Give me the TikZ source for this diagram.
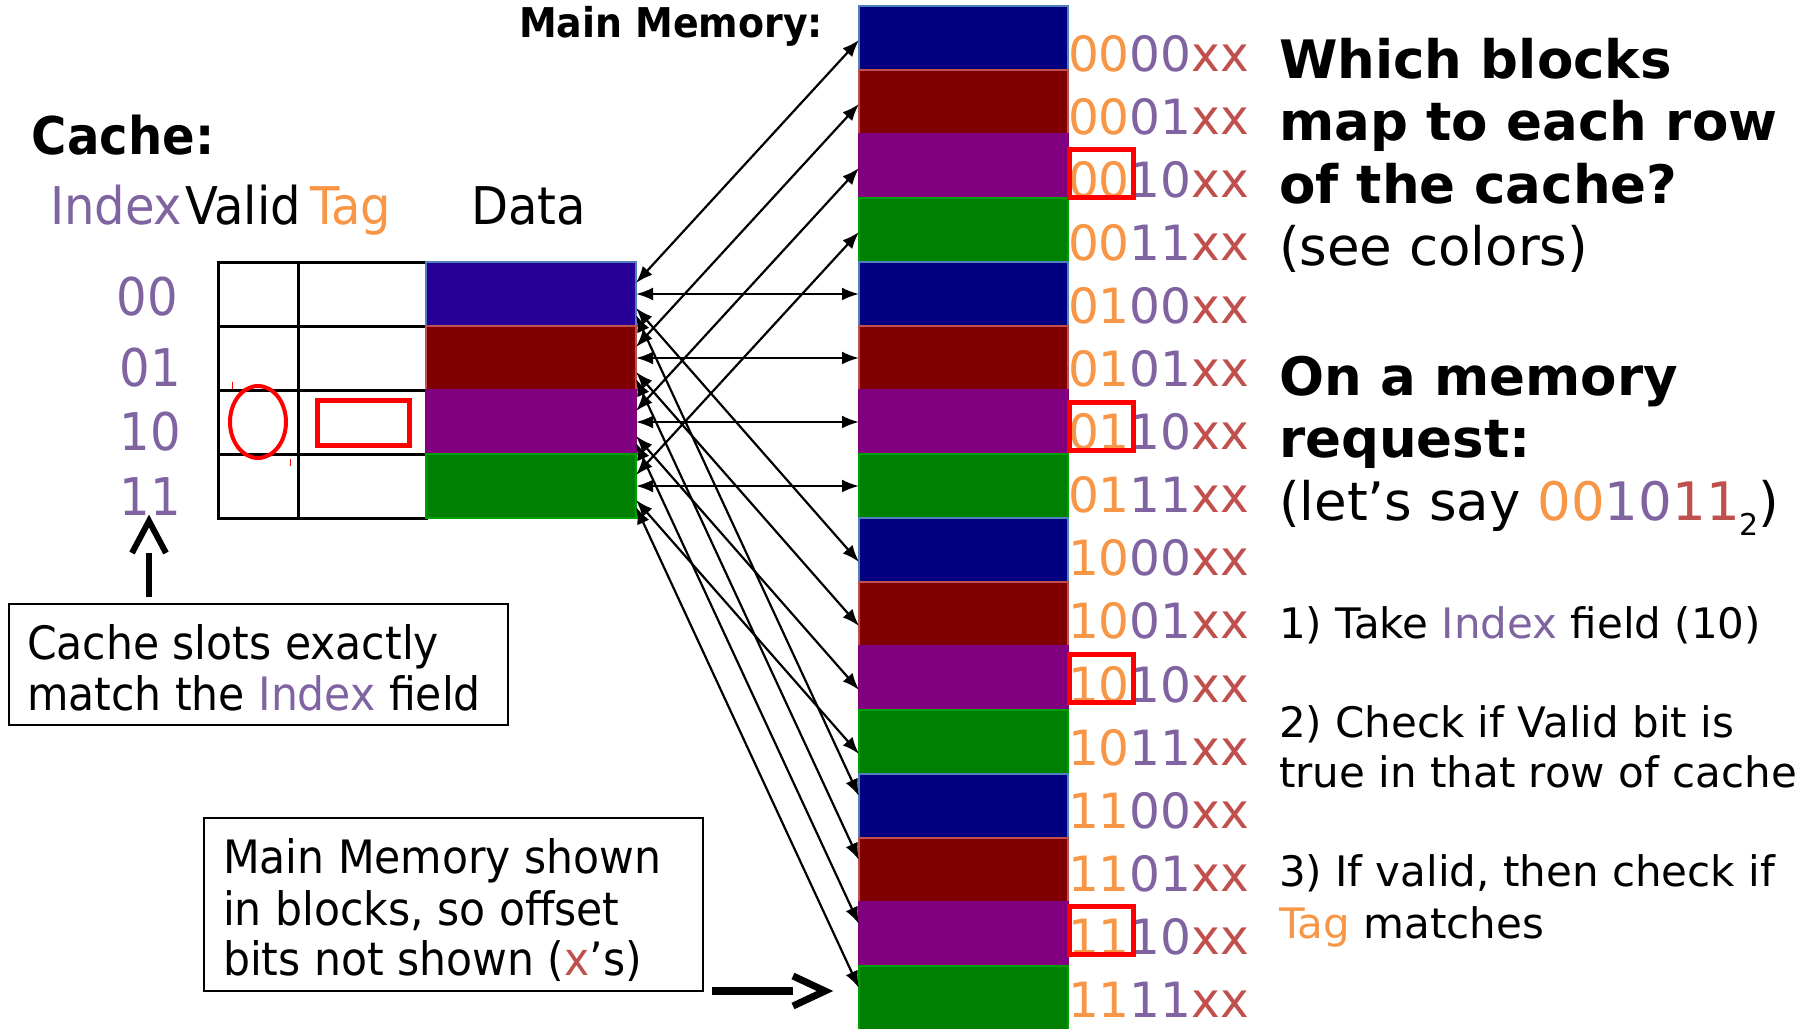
\documentclass[tikz,border=0pt]{standalone}
\usepackage{fontspec}
\setmainfont{DejaVu Sans}
\newfontfamily\cond[FakeStretch=0.925]{DejaVu Sans}
\usetikzlibrary{arrows.meta,calc}
\definecolor{ipurple}{HTML}{8064A2}
\definecolor{iorange}{HTML}{F79646}
\definecolor{ired}{HTML}{C0504D}
\definecolor{cblue}{RGB}{38,0,150}
\definecolor{mblue}{HTML}{000080}
\definecolor{mred}{HTML}{800000}
\definecolor{mpurple}{HTML}{800080}
\definecolor{mgreen}{HTML}{008000}
\definecolor{bblue}{HTML}{4F81BD}
\definecolor{bgreen}{HTML}{00A000}
\begin{document}
\begin{tikzpicture}[x=0.5pt,y=-0.5pt,
  memcell/.style={minimum width=104.5pt, minimum height=32pt, inner sep=0pt, outer sep=0pt, line width=0.9pt},
  datacell/.style={minimum width=105pt, minimum height=32pt, inner sep=0pt, outer sep=0pt, line width=0.9pt},
  gridcell/.style={draw=black, line width=1.5pt, minimum height=32pt, inner sep=0pt, outer sep=0pt},
  link/.style={{Latex[length=8.5pt,width=6.5pt]}-{Latex[length=8.5pt,width=6.5pt]}, line width=1.1pt},
  txt/.style={anchor=base west, inner sep=0pt, outer sep=0pt},
  addr/.style={txt, font=\fontsize{24.3}{24.3}\selectfont},
  bigb/.style={txt, font=\bfseries\fontsize{26.5}{26.5}\selectfont},
  bigr/.style={txt, font=\fontsize{26.5}{26.5}\selectfont},
  stepline/.style={txt, font=\fontsize{21}{21}\selectfont},
  boxtxt/.style={txt, font=\cond\fontsize{23}{23}\selectfont},
  notebox/.style={draw=black, line width=1.25pt, inner sep=0pt, outer sep=0pt},
  hilite/.style={draw=red, line width=2.5pt},
  fatline/.style={line width=3pt, line cap=butt},
  chev/.style={line width=3pt, line cap=butt, line join=miter}
]
\useasboundingbox (0,0) rectangle (1820,1028);
\clip (0,0) rectangle (1820,1028);

% ---------- main memory blocks ----------
\foreach \i in {0,...,15}{
  \pgfmathtruncatemacro\r{mod(\i,4)}
  \ifcase\r \def\fc{mblue}\def\bc{bblue}\or \def\fc{mred}\def\bc{ired}\or \def\fc{mpurple}\def\bc{mpurple}\or \def\fc{mgreen}\def\bc{bgreen}\fi
  \node[memcell, fill=\fc, draw=\bc] (m\i) at (963.5, {38+64*\i}) {};
}

% ---------- addresses ----------
\foreach \i/\a/\b in {0/00/00,1/00/01,2/00/10,3/00/11,4/01/00,5/01/01,6/01/10,7/01/11,
                      8/10/00,9/10/01,10/10/10,11/10/11,12/11/00,13/11/01,14/11/10,15/11/11}{
  \node[addr] (l\i) at (1068, {71+63.1*\i}) {\textcolor{iorange}{\a}\textcolor{ipurple}{\b}\textcolor{ired}{xx}};
}
\foreach \i in {2,6,10,14}{
  \draw[hilite] (1069.5, {71+63.1*\i-47.5}) rectangle (1133.5, {71+63.1*\i+0.5});
}

\node[txt, font=\cond\bfseries\fontsize{20.5}{20.5}\selectfont] (mmtitle) at (519, 38) {Main Memory:};

% ---------- cache ----------
\node[txt, font=\cond\bfseries\fontsize{26}{26}\selectfont] (ctitle) at (32, 154) {Cache:};
\node[txt, font=\cond\fontsize{26}{26}\selectfont, text=ipurple] (hidx) at (50, 224) {Index};
\node[txt, font=\cond\fontsize{26}{26}\selectfont] (hval) at (185, 224) {Valid};
\node[txt, font=\cond\fontsize{26}{26}\selectfont, text=iorange] (htag) at (310, 224) {Tag};
\node[txt, font=\cond\fontsize{26}{26}\selectfont] (hdat) at (471, 224) {Data};

\foreach \r in {0,...,3}{
  \node[gridcell, minimum width=40pt] (v\r) at (258, {294+64*\r}) {};
  \node[gridcell, minimum width=64pt] (t\r) at (362, {294+64*\r}) {};
}
\node[datacell, fill=cblue, draw=bblue] (c0) at (531, 294) {};
\node[datacell, fill=mred, draw=ired] (c1) at (531, 358) {};
\node[datacell, fill=mpurple, draw=mpurple] (c2) at (531, 422) {};
\node[datacell, fill=mgreen, draw=bgreen] (c3) at (531, 486) {};

\node[txt, anchor=base east, font=\cond\fontsize{26}{26}\selectfont, text=ipurple] (i0) at (178, 315) {00};
\node[txt, anchor=base east, font=\cond\fontsize{26}{26}\selectfont, text=ipurple] (i1) at (181, 386) {01};
\node[txt, anchor=base east, font=\cond\fontsize{26}{26}\selectfont, text=ipurple] (i2) at (181, 450) {10};
\node[txt, anchor=base east, font=\cond\fontsize{26}{26}\selectfont, text=ipurple] (i3) at (181, 515) {11};

% red marks in row 10
\draw[red, line width=2pt] (v2.center) ellipse [x radius=14pt, y radius=18pt];
\draw[hilite] (317.5, 400.5) rectangle (409.5, 445.5);
\draw[red, line width=0.5pt] (232,382) -- (232,389);
\draw[red, line width=0.5pt] (290,459) -- (290,466);

% ---------- mapping arrows ----------
\foreach \r in {0,...,3}{
  \foreach \k/\co/\mo in {0/21/2, 1/32/0, 2/46/12, 3/53/-10}{
    \pgfmathtruncatemacro\mi{\r+4*\k}
    \draw[link] ($(c\r.north east)+(0,\co)$) -- ($(m\mi.west)+(0,\mo)$);
  }
}

% ---------- note boxes ----------
\node[notebox, minimum width=249.5pt, minimum height=60.5pt] (b1) at (258.5, 664.5) {};
\node[boxtxt] (b1a) at (27, 659) {Cache slots exactly};
\node[boxtxt] (b1b) at (27, 710) {match the \textcolor{ipurple}{Index} field};

\node[notebox, minimum width=249.5pt, minimum height=86.5pt] (b2) at (453.5, 904.5) {};
\node[boxtxt] (b2a) at (223, 873) {Main Memory shown};
\node[boxtxt] (b2b) at (223, 925) {in blocks, so offset};
\node[boxtxt] (b2c) at (223, 975) {bits not shown (\textcolor{ired}{x}’s)};

% thick open arrows
\coordinate (a1t) at (149,597);
\coordinate (a1h) at (149,553);
\draw[fatline] (a1t) -- (a1h);
\draw[chev] (132,553) -- (149,521) -- (166,553);

\coordinate (a2t) at (712,991);
\coordinate (a2h) at (793,991);
\draw[fatline, line width=3.8pt] (a2t) -- (a2h);
\draw[chev, line width=3.5pt] (793,976) -- (825,991) -- (793,1006);

% ---------- right-hand text ----------
\node[bigb] (q1) at (1279, 78) {Which blocks};
\node[bigb] (q2) at (1279, 140) {map to each row};
\node[bigb] (q3) at (1279, 203) {of the cache?};
\node[bigr] (q4) at (1279, 265) {(see colors)};
\node[bigb] (q5) at (1279, 395) {On a memory};
\node[bigb] (q6) at (1279, 457) {request:};
\node[bigr] (q7) at (1279, 520) {(let’s say \textcolor{iorange}{00}\textcolor{ipurple}{10}\textcolor{ired}{11}\raisebox{-0.3em}{\fontsize{15}{15}\selectfont 2})};

\node[stepline] (s1) at (1279, 638) {1) Take \textcolor{ipurple}{Index} field (10)};
\node[stepline] (s2) at (1279, 737) {2) Check if Valid bit is};
\node[stepline] (s3) at (1279, 787) {true in that row of cache};
\node[stepline] (s4) at (1279, 886) {3) If valid, then check if};
\node[stepline] (s5) at (1279, 938) {\textcolor{iorange}{Tag} matches};
\end{tikzpicture}
\end{document}
